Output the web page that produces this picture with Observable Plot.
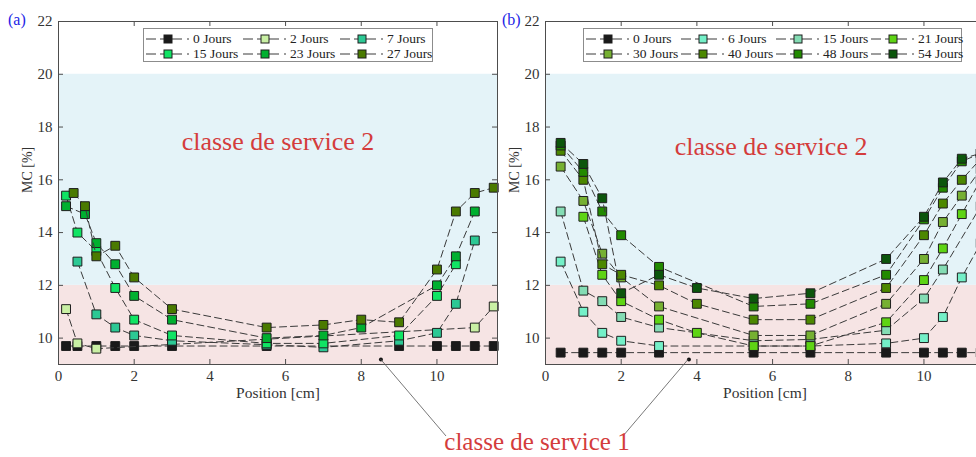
<!DOCTYPE html>
<html><head><meta charset="utf-8">
<script src="https://cdn.jsdelivr.net/npm/d3@7"></script>
<script src="https://cdn.jsdelivr.net/npm/@observablehq/plot@0.6"></script>
<style>
html,body{margin:0;padding:0;background:#fff;overflow:hidden;width:976px;height:457px;}
#root{position:relative;width:976px;height:457px;overflow:hidden;font-family:"Liberation Serif",serif;}
.panel{position:absolute;top:0;}
.legend{position:absolute;background:#fff;border:1px solid #8c8c8c;box-sizing:border-box;display:grid;font-family:"Liberation Serif",serif;font-size:13.5px;color:#222;padding:3px 0 0 2px;z-index:5;}
.entry{display:flex;align-items:center;height:14px;white-space:nowrap;}
.entry svg{flex:none;margin-right:3px;}
.plabel{position:absolute;color:#2323e6;font-family:"Liberation Serif",serif;font-size:16px;z-index:5;}
</style></head><body><div id="root"></div>
<script>
// ---------- data ----------
const xTicks = [0, 2, 4, 6, 8, 10];
const yTicks = [10, 12, 14, 16, 18, 20, 22];
const yDomain = [9, 22];
const xDomain = [0, 11.6];
const yLabel = "MC [%]";
const xLabel = "Position [cm]";
const bandNames = ["classe de service 1", "classe de service 2"];
const bandLow = [9, 12];
const bandHigh = [12, 20];

// panel (a)
const labelsA = ["0 Jours", "2 Jours", "7 Jours", "15 Jours", "23 Jours", "27 Jours"];
const a00 = [[0.2,9.7],[0.5,9.7],[1,9.7],[1.5,9.7],[2,9.7],[3,9.7],[5.5,9.7],[9,9.7],[10,9.7],[10.5,9.7],[11,9.7],[11.5,9.7]];
const a02 = [[0.2,11.1],[0.5,9.8],[1,9.6],[11,10.4],[11.5,11.2]];
const a07 = [[0.5,12.9],[1,10.9],[1.5,10.4],[2,10.1],[3,9.9],[5.5,9.75],[7,9.65],[9,9.9],[10,10.2],[10.5,11.3],[11,13.7]];
const a15 = [[0.2,15.4],[0.5,14.0],[1,13.3],[1.5,11.9],[2,10.7],[3,10.1],[5.5,9.8],[7,9.8],[9,10.1],[10,11.6],[10.5,12.8]];
const a23 = [[0.2,15.0],[0.7,14.7],[1,13.6],[1.5,12.8],[2,11.6],[3,10.7],[5.5,10.0],[7,10.1],[8,10.4],[10,12.0],[10.5,13.1],[11,14.8]];
const a27 = [[0.4,15.5],[0.7,15.0],[1,13.1],[1.5,13.5],[2,12.3],[3,11.1],[5.5,10.4],[7,10.5],[8,10.7],[9,10.6],[10,12.6],[10.5,14.8],[11,15.5],[11.5,15.7]];

// panel (b)
const labelsB = ["0 Jours", "6 Jours", "15 Jours", "21 Jours", "30 Jours", "40 Jours", "48 Jours", "54 Jours"];
const b00 = [[0.4,9.45],[1,9.45],[1.5,9.45],[2,9.45],[3,9.45],[5.5,9.45],[7,9.45],[9,9.45],[10,9.45],[10.5,9.45],[11,9.45],[11.5,9.45]];
const b06 = [[0.4,12.9],[1,11.0],[1.5,10.2],[2,9.9],[3,9.7],[5.5,9.7],[7,9.7],[9,9.8],[10,10.0],[10.5,10.8],[11,12.3],[11.5,13.6]];
const b15 = [[0.4,14.8],[1,11.8],[1.5,11.4],[2,10.8],[3,10.4],[5.5,9.9],[7,9.95],[9,10.3],[10,11.5],[10.5,12.6],[11.5,15.0]];
const b21 = [[1,14.6],[1.5,12.4],[2,11.4],[3,10.7],[4,10.2],[5.5,9.7],[7,9.7],[9,10.6],[10,12.2],[10.5,13.4],[11,14.7],[11.5,16.0]];
const b30 = [[0.4,16.5],[1,15.2],[1.5,13.2],[2,12.3],[3,11.2],[5.5,10.1],[7,10.1],[9,11.3],[10,13.0],[10.5,14.4],[11,15.4],[11.5,16.4]];
const b40 = [[0.4,17.1],[1,16.0],[1.5,12.8],[2,12.4],[3,12.0],[4,11.3],[5.5,10.7],[7,10.7],[9,11.9],[10,13.9],[10.5,15.1],[11,16.0],[11.5,16.8]];
const b48 = [[0.4,17.3],[1,16.3],[1.5,14.8],[2,13.9],[3,12.7],[5.5,11.2],[7,11.3],[9,12.4],[10,14.5],[10.5,15.7],[11,16.7],[11.5,17.0]];
const b54 = [[0.4,17.4],[1,16.6],[1.5,15.3],[2,11.7],[3,12.4],[4,11.9],[5.5,11.5],[7,11.7],[9,13.0],[10,14.6],[10.5,15.9],[11,16.8],[11.5,17.0]];

// ---------- styles ----------
const colorsA = ["#1a1a1a", "#c9f0a4", "#2cc894", "#10e464", "#00b030", "#4a7a00"];
const colorsB = ["#1a1a1a", "#74f0c8", "#84dcb4", "#5ed414", "#76b032", "#4c8800", "#228a00", "#0c560c"];
const bandColors = ["#f6e4e4", "#e4f3f8"];
const red = "#d43c3c";
const axisColor = "#4d4d4d";
const serif = "'Liberation Serif', serif";
const annotA = {x: 8.52, y: 9.19};
const annotB = {x: 3.79, y: 9.19};
const class2A = {x: 5.8, y: 17.45};
const class2B = {x: 5.96, y: 17.25};

const W = 510, H = 400, ML = 58, MR = 13, MT = 21, MB = 36;
const PW = W - ML - MR, PH = H - MT - MB;

const root = document.getElementById("root");

function makePanel(seriesList, colors, annot, cls, left) {
  const bands = bandNames.map((n, i) => ({name: n, lo: bandLow[i], hi: bandHigh[i], fill: bandColors[i]}));
  const marks = [
    ...bands.map(b => Plot.rect([b], {y1: "lo", y2: "hi", fill: b.fill})),
    Plot.tickX(xTicks, {x: d => d, insetTop: PH - 5, stroke: axisColor}),
    Plot.tickX(xTicks, {x: d => d, insetBottom: PH - 5, stroke: axisColor}),
    Plot.tickY(yTicks, {y: d => d, insetRight: PW - 5, stroke: axisColor}),
    Plot.tickY(yTicks, {y: d => d, insetLeft: PW - 5, stroke: axisColor}),
    Plot.axisX(xTicks, {tickSize: 0, tickPadding: 6, label: null, fontSize: 15, fontFamily: serif, fill: "#333"}),
    Plot.axisY(yTicks, {tickSize: 0, tickPadding: 6, label: null, fontSize: 15, fontFamily: serif, fill: "#333"}),
    Plot.text([yLabel], {frameAnchor: "left", dx: -31, rotate: -90, text: d => d, fontSize: 14, fontFamily: serif, fill: "#333"}),
    Plot.text([xLabel], {frameAnchor: "bottom", dy: 33, text: d => d, fontSize: 15.5, fontFamily: serif, fill: "#333"}),
    Plot.text([bandNames[1]], {x: cls.x, y: cls.y, text: d => d, fill: red, fontSize: 26, fontFamily: serif})
  ];
  seriesList.forEach((pts, i) => {
    const d = pts.map(p => ({px: p[0], py: p[1]}));
    marks.push(Plot.line(d, {x: "px", y: "py", stroke: "#3a3a3a", strokeWidth: 1, strokeDasharray: "7,4"}));
    marks.push(Plot.dot(d, {x: "px", y: "py", symbol: "square", r: 5, fill: colors[i], stroke: "#1e1e1e", strokeWidth: 1}));
  });
  marks.push(Plot.dot([annot], {x: "x", y: "y", r: 2, fill: "#111"}));
  marks.push(Plot.frame({stroke: axisColor}));
  const p = Plot.plot({
    width: W, height: H,
    marginLeft: ML, marginRight: MR, marginTop: MT, marginBottom: MB,
    x: {domain: xDomain},
    y: {domain: yDomain},
    style: {background: "transparent", fontFamily: serif, fontSize: "14px", color: "#333", overflow: "visible"},
    marks
  });
  p.classList.add("panel");
  p.style.left = left + "px";
  p.style.position = "absolute";
  p.style.top = "0px";
  root.appendChild(p);
  return p;
}

const plotA = makePanel([a00, a02, a07, a15, a23, a27], colorsA, annotA, class2A, 0);
const plotB = makePanel([b00, b06, b15, b21, b30, b40, b48, b54], colorsB, annotB, class2B, 487);

function legend(labels, colors, left, width, colW, ncol) {
  const div = document.createElement("div");
  div.className = "legend";
  div.style.left = left + "px";
  div.style.top = "28px";
  div.style.width = width + "px";
  div.style.height = "34px";
  div.style.gridTemplateColumns = `repeat(${ncol}, ${colW}px)`;
  labels.forEach((lab, i) => {
    const e = document.createElement("div");
    e.className = "entry";
    e.innerHTML = `<svg width="44" height="12"><g stroke="#3a3a3a" stroke-width="1">
      <line x1="0" y1="6" x2="10" y2="6"/><line x1="14" y1="6" x2="36" y2="6"/><line x1="41" y1="6" x2="43" y2="6"/></g>
      <rect x="18" y="2" width="8" height="8" fill="${colors[i]}" stroke="#1e1e1e" stroke-width="1"/></svg><span>${lab}</span>`;
    div.appendChild(e);
  });
  root.appendChild(div);
}
legend(labelsA, colorsA, 143, 290, 97, 3);
legend(labelsB, colorsB, 583, 379, 95, 4);

function plabel(t, left) {
  const d = document.createElement("div");
  d.className = "plabel";
  d.textContent = t;
  d.style.left = left + "px";
  d.style.top = "11px";
  root.appendChild(d);
}
plabel("(a)", 8);
plabel("(b)", 502);

// annotation for classe de service 1
const ns = "http://www.w3.org/2000/svg";
const ov = document.createElementNS(ns, "svg");
ov.setAttribute("width", 976); ov.setAttribute("height", 457);
ov.style.position = "absolute"; ov.style.left = "0"; ov.style.top = "0"; ov.style.pointerEvents = "none"; ov.style.zIndex = 4;
const ax = 0 + plotA.scale("x").apply(annotA.x), ay = plotA.scale("y").apply(annotA.y);
const bx = 487 + plotB.scale("x").apply(annotB.x), by = plotB.scale("y").apply(annotB.y);
const tx = 537, ty = 450;
ov.innerHTML = `<line x1="${ax}" y1="${ay}" x2="${tx - 91}" y2="${ty - 14}" stroke="#555" stroke-width="0.8"/>
<line x1="${bx}" y1="${by}" x2="${tx + 86}" y2="${ty - 14}" stroke="#555" stroke-width="0.8"/>
<text x="${tx}" y="${ty}" text-anchor="middle" font-family="Liberation Serif, serif" font-size="25" fill="${red}">${bandNames[0]}</text>`;
root.appendChild(ov);
</script></body></html>
